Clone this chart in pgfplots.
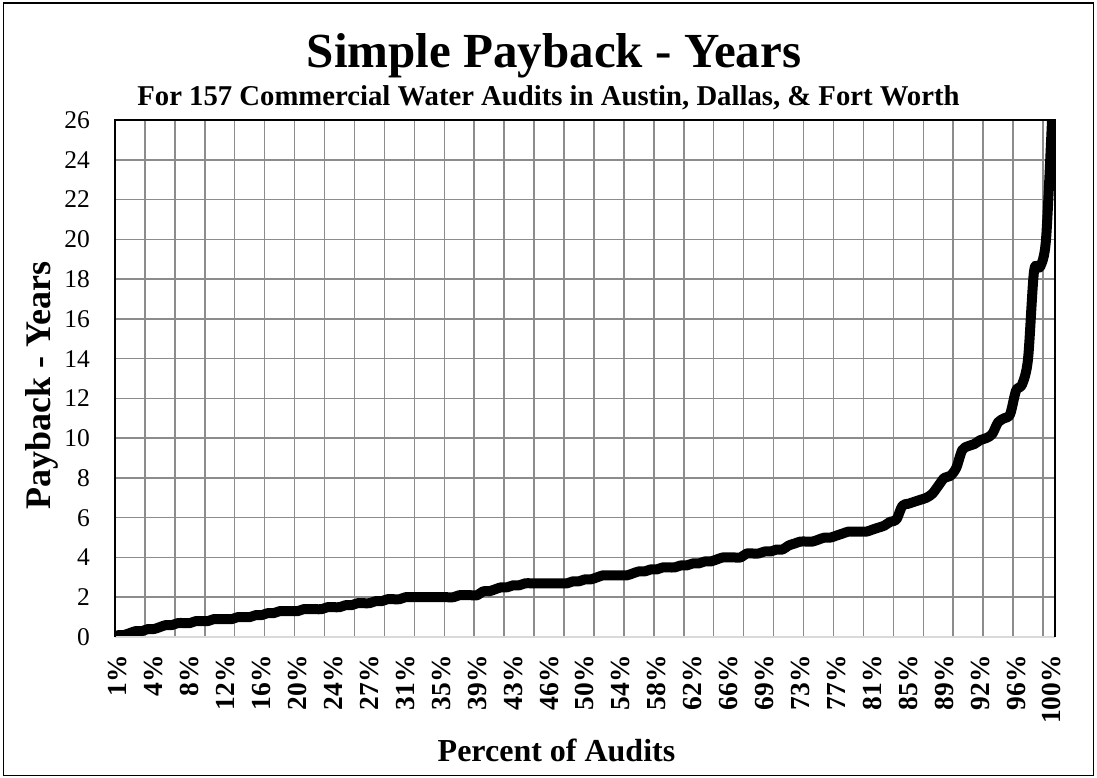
\documentclass[border=0pt]{standalone}
\usepackage{fontspec}
\setmainfont{Liberation Serif}
\usepackage{pgfplots}
\pgfplotsset{compat=1.18}
\definecolor{gridgray}{RGB}{140,140,140}
\definecolor{basegray}{RGB}{217,217,217}
\begin{document}
\begin{tikzpicture}
\useasboundingbox (0pt,0pt) rectangle (1097pt,777pt);
\begin{axis}[
  name=ax,
  at={(115pt,140pt)}, anchor=south west,
  scale only axis, width=940pt, height=517pt,
  xmin=0, xmax=157, ymin=0, ymax=26,
  xtick={0.5,6.5,...,156.5},
  xticklabels={1\%,4\%,8\%,12\%,16\%,20\%,24\%,27\%,31\%,35\%,39\%,43\%,46\%,50\%,54\%,58\%,62\%,66\%,69\%,73\%,77\%,81\%,85\%,89\%,92\%,96\%,100\%},
  minor xtick={5,10,...,155},
  ytick={0,2,...,26},
  xminorgrids, ymajorgrids,
  major tick length=0pt, minor tick length=0pt,
  axis line style={draw=none},
  minor grid style={gridgray, line width=1.5pt},
  major grid style={gridgray, line width=1.5pt},
  xticklabel style={rotate=90, anchor=east, inner sep=0pt, font=\bfseries\fontsize{27.5}{30}\selectfont},
  xticklabel shift=18pt,
  yticklabel style={anchor=east, inner sep=0pt, font=\fontsize{25.5}{28}\selectfont},
  yticklabel shift=25pt,
  /pgf/number format/assume math mode=true,
]
\addplot[black, line width=10pt, smooth, line join=round, line cap=round]
  table[x expr=\coordindex+0.5, y index=0, header=false, row sep=\\] {
0.1\\0.1\\0.2\\0.3\\0.3\\0.4\\0.4\\0.5\\0.6\\0.6\\
0.7\\0.7\\0.7\\0.8\\0.8\\0.8\\0.9\\0.9\\0.9\\0.9\\
1.0\\1.0\\1.0\\1.1\\1.1\\1.2\\1.2\\1.3\\1.3\\1.3\\
1.3\\1.4\\1.4\\1.4\\1.4\\1.5\\1.5\\1.5\\1.6\\1.6\\
1.7\\1.7\\1.7\\1.8\\1.8\\1.9\\1.9\\1.9\\2.0\\2.0\\
2.0\\2.0\\2.0\\2.0\\2.0\\2.0\\2.0\\2.1\\2.1\\2.1\\
2.1\\2.3\\2.3\\2.4\\2.5\\2.5\\2.6\\2.6\\2.7\\2.7\\
2.7\\2.7\\2.7\\2.7\\2.7\\2.7\\2.8\\2.8\\2.9\\2.9\\
3.0\\3.1\\3.1\\3.1\\3.1\\3.1\\3.2\\3.3\\3.3\\3.4\\
3.4\\3.5\\3.5\\3.5\\3.6\\3.6\\3.7\\3.7\\3.8\\3.8\\
3.9\\4.0\\4.0\\4.0\\4.0\\4.2\\4.2\\4.2\\4.3\\4.3\\
4.4\\4.4\\4.6\\4.7\\4.8\\4.8\\4.8\\4.9\\5.0\\5.0\\
5.1\\5.2\\5.3\\5.3\\5.3\\5.3\\5.4\\5.5\\5.6\\5.8\\
5.9\\6.6\\6.7\\6.8\\6.9\\7.0\\7.2\\7.6\\8.0\\8.1\\
8.5\\9.4\\9.6\\9.7\\9.9\\10.0\\10.2\\10.8\\11.0\\11.2\\
12.4\\12.7\\14.0\\18.4\\18.6\\20.0\\26.0\\
};
\end{axis}
% plot area border: light base line, black on the other three sides
\draw[basegray, line width=2pt] (ax.south west) -- (ax.south east);
\draw[black, line width=1.5pt] (ax.south west) -- (ax.north west) -- (ax.north east) -- (ax.south east);
% titles
\node[anchor=base, inner sep=0pt, font=\bfseries\fontsize{49}{55}\selectfont] at (554pt,709pt) {Simple Payback - Years};
\node[anchor=base, inner sep=0pt, font=\bfseries\fontsize{28.7}{32}\selectfont] at (548.5pt,671pt) {For 157 Commercial Water Audits in Austin, Dallas, \& Fort Worth};
\node[anchor=base, inner sep=0pt, font=\bfseries\fontsize{32}{36}\selectfont] at (556.5pt,16pt) {Percent of Audits};
\node[anchor=base, rotate=90, inner sep=0pt, font=\bfseries\fontsize{36}{40}\selectfont] at (50pt,391pt) {Payback - Years};
% chart frame
\draw[black, line width=1.5pt] (3.5pt,1.5pt) rectangle (1093.5pt,774pt);
\end{tikzpicture}
\end{document}
